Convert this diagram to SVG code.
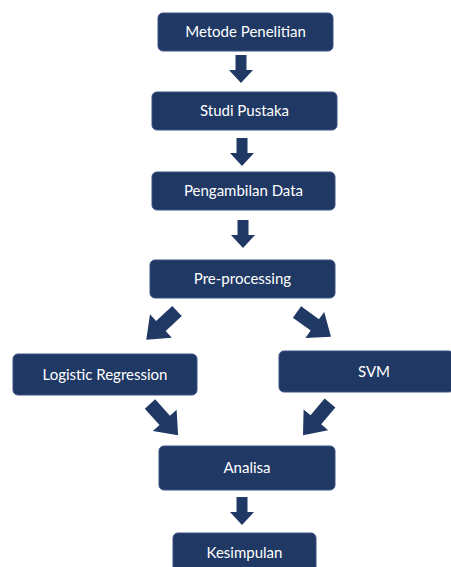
<svg xmlns="http://www.w3.org/2000/svg" width="451" height="567" viewBox="0 0 451 567">
<defs>
<style>
.box{fill:#1f3864;stroke:#3a5282;stroke-width:1}
.lbl{fill:#ffffff;font-family:Lato,"Open Sans","Liberation Sans",sans-serif;font-size:15px;text-anchor:middle}
.arr{fill:#1f3864}
</style>
<path id="down" d="M-5.5,0 H5.5 V15 H12 L0,28 L-12,15 H-5.5 Z"/>
<path id="diag" d="M-7,0 H7 V22 H16 L0,42 L-16,22 H-7 Z"/>
</defs>
<rect width="451" height="567" fill="#ffffff"/>
<g id="n1"><rect class="box" x="158" y="13" width="175" height="38" rx="5"/><text class="lbl" x="245.5" y="37">Metode Penelitian</text></g>
<g id="n2"><rect class="box" x="152" y="92" width="185" height="38" rx="5"/><text class="lbl" x="244.5" y="116">Studi Pustaka</text></g>
<g id="n3"><rect class="box" x="152" y="172" width="183" height="38" rx="5"/><text class="lbl" x="243.5" y="196">Pengambilan Data</text></g>
<g id="n4"><rect class="box" x="150" y="260" width="185" height="38" rx="5"/><text class="lbl" x="242.5" y="284">Pre-processing</text></g>
<g id="n5"><rect class="box" x="13" y="354" width="184" height="41" rx="5"/><text class="lbl" x="105" y="380">Logistic Regression</text></g>
<g id="n6"><rect class="box" x="279" y="351" width="175" height="41" rx="5"/><text class="lbl" x="374" y="377">SVM</text></g>
<g id="n7"><rect class="box" x="159" y="446" width="176" height="44" rx="5"/><text class="lbl" x="247" y="473">Analisa</text></g>
<g id="n8"><rect class="box" x="173" y="533" width="143" height="44" rx="5"/><text class="lbl" x="244.5" y="558">Kesimpulan</text></g>
<g id="connectors" class="arr">
<use href="#down" x="241" y="55"/>
<use href="#down" x="242" y="138"/>
<use href="#down" x="243" y="220"/>
<use href="#diag" transform="translate(177,311) rotate(47)"/>
<use href="#diag" transform="translate(297,312) rotate(-54)"/>
<use href="#diag" transform="translate(150,404) rotate(-42)"/>
<use href="#diag" transform="translate(330,403) rotate(40)"/>
<use href="#down" x="242" y="497"/>
</g>
</svg>
